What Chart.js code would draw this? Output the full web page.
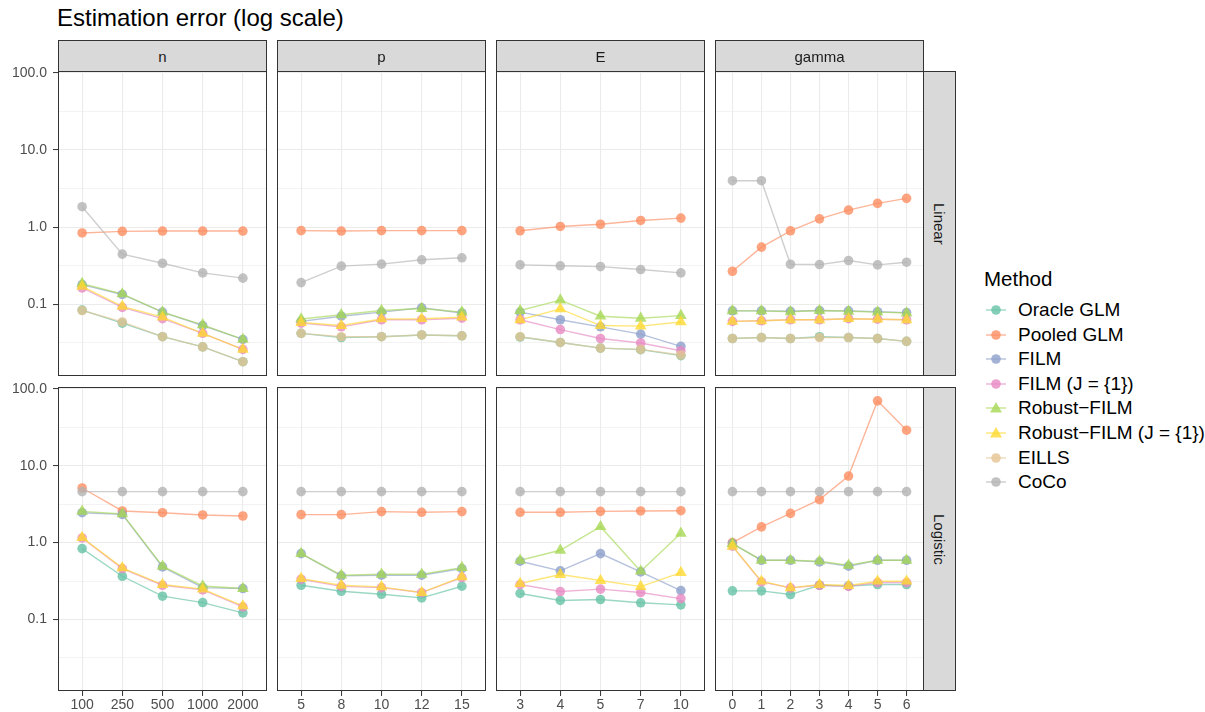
<!DOCTYPE html>
<html>
<head>
<meta charset="utf-8">
<script src="https://cdn.jsdelivr.net/npm/chart.js@4.4.1/dist/chart.umd.min.js"></script>
<style>
    body {
        margin: 0;
        width: 1205px;
        height: 712px;
        overflow: hidden;
        background: #fff;
        position: relative;
        font-family: "Liberation Sans", Arial, sans-serif;
    }
    .title {
        position: absolute;
        left: 57px;
        top: 4px;
        font-size: 24px;
        color: #000;
    }
    .box {
        position: absolute;
    }
    .strip {
        position: absolute;
        box-sizing: border-box;
        background: #D9D9D9;
        border: 1px solid #333;
        color: #1A1A1A;
        font-size: 15px;
        display: flex;
        align-items: center;
        justify-content: center;
        z-index: 2;
    }
    .strip.side span {
        writing-mode: vertical-rl;
    }
    .legend-title {
        position: absolute;
        left: 984px;
        top: 267px;
        font-size: 20.5px;
        color: #000;
    }
    .legend-item {
        position: absolute;
        left: 985px;
        height: 22px;
        display: flex;
        align-items: center;
        font-size: 19px;
        color: #000;
        white-space: nowrap;
    }
    .legend-item svg {
        margin-right: 11px;
    }
</style>
</head>
<body>
<div class="title">Estimation error (log scale)</div>
<div id="root"></div>
<script>
const METHODS = ['Oracle GLM', 'Pooled GLM', 'FILM', 'FILM (J = {1})', 'Robust−FILM', 'Robust−FILM (J = {1})', 'EILLS', 'CoCo'];
const COLORS = ['#66C2A5', '#FC8D62', '#8DA0CB', '#E78AC3', '#A6D854', '#FFD92F', '#E5C494', '#B3B3B3'];
const SHAPES = ['circle', 'circle', 'circle', 'circle', 'triangle', 'triangle', 'circle', 'circle'];

const FACETS = ['n', 'p', 'E', 'gamma'];
const ROWS = ['Linear', 'Logistic'];

const nLabels = ['100', '250', '500', '1000', '2000'];
const pLabels = ['5', '8', '10', '12', '15'];
const eLabels = ['3', '4', '5', '7', '10'];
const gammaLabels = ['0', '1', '2', '3', '4', '5', '6'];

const yTicks = [0.0316, 0.1, 0.316, 1, 3.16, 10, 31.6, 100];

// values in METHODS order, null = method not run
const linearN = [
    [0.084, 0.057, 0.038, 0.028, 0.018],
    [0.84, 0.88, 0.89, 0.89, 0.89],
    [0.18, 0.134, 0.079, 0.053, 0.035],
    [0.163, 0.091, 0.065, 0.042, 0.026],
    [0.185, 0.136, 0.079, 0.054, 0.035],
    [0.171, 0.094, 0.068, 0.042, 0.026],
    [0.083, 0.059, 0.038, 0.028, 0.018],
    [1.84, 0.446, 0.34, 0.255, 0.218]
];
const linearP = [
    [0.042, 0.037, 0.038, 0.040, 0.039],
    [0.90, 0.89, 0.90, 0.90, 0.90],
    [0.060, 0.070, 0.079, 0.090, 0.077],
    [0.057, 0.051, 0.063, 0.063, 0.066],
    [0.0645, 0.073, 0.083, 0.088, 0.079],
    [0.058, 0.053, 0.0645, 0.065, 0.068],
    [0.042, 0.038, 0.038, 0.040, 0.039],
    [0.191, 0.312, 0.331, 0.377, 0.40]
];
const linearE = [
    [0.0376, 0.032, 0.027, 0.0258, 0.0216],
    [0.896, 1.02, 1.09, 1.22, 1.31],
    [0.079, 0.063, 0.051, 0.041, 0.0285],
    [0.063, 0.047, 0.036, 0.0315, 0.025],
    [0.083, 0.113, 0.070, 0.0658, 0.0713],
    [0.063, 0.087, 0.053, 0.052, 0.059],
    [0.038, 0.032, 0.027, 0.026, 0.022],
    [0.324, 0.315, 0.308, 0.282, 0.255]
];
const linearGamma = [
    [0.036, 0.037, 0.036, 0.038, 0.037, 0.036, 0.033],
    [0.268, 0.55, 0.896, 1.28, 1.66, 2.03, 2.36],
    [0.082, 0.082, 0.081, 0.083, 0.082, 0.080, 0.078],
    [0.060, 0.061, 0.063, 0.063, 0.065, 0.064, 0.063],
    [0.082, 0.082, 0.080, 0.083, 0.081, 0.079, 0.077],
    [0.060, 0.061, 0.063, 0.063, 0.065, 0.064, 0.063],
    [0.036, 0.037, 0.036, 0.037, 0.037, 0.036, 0.033],
    [4.0, 4.0, 0.33, 0.327, 0.369, 0.324, 0.351]
];
const logisticN = [
    [0.836, 0.365, 0.201, 0.166, 0.122],
    [5.13, 2.58, 2.45, 2.29, 2.22],
    [2.45, 2.33, 0.483, 0.26, 0.253],
    [1.15, 0.46, 0.279, 0.243, 0.146],
    [2.55, 2.36, 0.493, 0.273, 0.253],
    [1.16, 0.469, 0.285, 0.248, 0.150],
    null,
    [4.6, 4.6, 4.6, 4.6, 4.6]
];
const logisticP = [
    [0.279, 0.233, 0.213, 0.191, 0.271],
    [2.31, 2.31, 2.53, 2.48, 2.53],
    [0.72, 0.369, 0.377, 0.377, 0.46],
    [0.334, 0.27, 0.26, 0.224, 0.351],
    [0.72, 0.377, 0.388, 0.388, 0.473],
    [0.34, 0.279, 0.266, 0.224, 0.358],
    null,
    [4.6, 4.6, 4.6, 4.6, 4.6]
];
const logisticE = [
    [0.218, 0.177, 0.182, 0.165, 0.155],
    [2.48, 2.48, 2.55, 2.58, 2.60],
    [0.573, 0.429, 0.72, 0.416, 0.238],
    [0.285, 0.231, 0.248, 0.224, 0.187],
    [0.59, 0.795, 1.61, 0.425, 1.32],
    [0.294, 0.384, 0.321, 0.268, 0.408],
    null,
    [4.6, 4.6, 4.6, 4.6, 4.6]
];
const logisticGamma = [
    [0.236, 0.236, 0.211, 0.279, 0.273, 0.285, 0.285],
    [1.0, 1.6, 2.4, 3.62, 7.34, 69.8, 29.0],
    [0.97, 0.59, 0.59, 0.561, 0.493, 0.59, 0.59],
    [0.90, 0.308, 0.258, 0.279, 0.27, 0.303, 0.303],
    [0.97, 0.59, 0.59, 0.573, 0.508, 0.59, 0.59],
    [0.896, 0.315, 0.258, 0.285, 0.277, 0.315, 0.315],
    null,
    [4.6, 4.6, 4.6, 4.6, 4.6, 4.6, 4.6]
];

const facetLabels = [nLabels, pLabels, eLabels, gammaLabels];
const facetData = [
    [linearN, linearP, linearE, linearGamma],
    [logisticN, logisticP, logisticE, logisticGamma]
];

// layout (px)
const colX = [58, 277, 496, 715];
const rowY = [71, 387];
const panelW = 209;
const panelH = [305, 304];
const yAxisW = 58;
const xAxisH = 21;
const pad = 8;
const Y_MIN = Math.pow(10, -1.93);
const Y_MAX = Math.pow(10, 2.024);

Chart.defaults.font.family = '"Liberation Sans", Arial, sans-serif';

function rgba(hex, a) {
    const n = parseInt(hex.slice(1), 16);
    return `rgba(${n >> 16}, ${(n >> 8) & 255}, ${n & 255}, ${a})`;
}

function isMajor(v) {
    const l = Math.log10(v);
    return Math.abs(l - Math.round(l)) < 1e-6;
}

const panelBorder = {
    id: 'panelBorder',
    afterDraw(chart) {
        const a = chart.chartArea;
        const ctx = chart.ctx;
        ctx.save();
        ctx.strokeStyle = '#333333';
        ctx.lineWidth = 1;
        ctx.strokeRect(Math.round(a.left) + 0.5, Math.round(a.top) + 0.5,
            Math.round(a.right - a.left) - 1, Math.round(a.bottom - a.top) - 1);
        ctx.restore();
    }
};

const root = document.getElementById('root');

function makePanel(col, row) {
    const labels = facetLabels[col];
    const series = facetData[row][col];
    const first = col === 0;
    const last = row === 1;

    const box = document.createElement('div');
    box.className = 'box';
    const left = first ? colX[col] - yAxisW : colX[col];
    const width = panelW + (first ? yAxisW : 0);
    const height = pad + panelH[row] + (last ? xAxisH : pad);
    box.style.left = left + 'px';
    box.style.top = (rowY[row] - pad) + 'px';
    box.style.width = width + 'px';
    box.style.height = height + 'px';
    const canvas = document.createElement('canvas');
    box.appendChild(canvas);
    root.appendChild(box);

    // ggplot draws all lines first, then points; later methods sit on top
    const lineSets = [];
    const pointSets = [];
    METHODS.forEach((m, i) => {
        if (!series[i]) return;
        const pts = series[i].map((v, k) => ({ x: k, y: v }));
        lineSets.push({
            label: m,
            data: pts,
            borderColor: rgba(COLORS[i], 0.65),
            borderWidth: 1.4,
            pointRadius: 0,
            fill: false,
            tension: 0,
            order: 100 + (METHODS.length - i)
        });
        pointSets.push({
            label: m,
            data: pts,
            showLine: false,
            pointStyle: SHAPES[i],
            pointRadius: SHAPES[i] === 'triangle' ? 6.8 : 4.8,
            pointBackgroundColor: rgba(COLORS[i], 0.8),
            pointBorderWidth: 0,
            pointBorderColor: 'rgba(0,0,0,0)',
            order: METHODS.length - i
        });
    });

    new Chart(canvas.getContext('2d'), {
        type: 'line',
        data: { datasets: lineSets.concat(pointSets) },
        options: {
            responsive: true,
            maintainAspectRatio: false,
            animation: false,
            events: [],
            layout: {
                autoPadding: false,
                padding: { top: pad, bottom: last ? 0 : pad, left: 0, right: 0 }
            },
            plugins: {
                legend: { display: false },
                tooltip: { enabled: false },
                title: { display: false }
            },
            scales: {
                x: {
                    type: 'linear',
                    min: -0.6,
                    max: labels.length - 0.4,
                    afterBuildTicks: function(scale) {
                        scale.ticks = labels.map((l, k) => ({ value: k }));
                    },
                    afterFit: function(scale) {
                        scale.height = last ? xAxisH : 0;
                        scale.paddingLeft = 0;
                        scale.paddingRight = 0;
                    },
                    ticks: {
                        display: last,
                        autoSkip: false,
                        maxRotation: 0,
                        padding: 1,
                        color: '#4D4D4D',
                        font: { size: 14 },
                        callback: function(value) {
                            return labels[value];
                        }
                    },
                    grid: {
                        color: '#EBEBEB',
                        lineWidth: 1.1,
                        drawTicks: last,
                        tickLength: 5,
                        tickColor: '#333333',
                        tickWidth: 1
                    },
                    border: { display: false }
                },
                y: {
                    type: 'logarithmic',
                    min: Y_MIN,
                    max: Y_MAX,
                    afterBuildTicks: function(scale) {
                        scale.ticks = yTicks.map(v => ({ value: v }));
                    },
                    afterFit: function(scale) {
                        scale.width = first ? yAxisW : 0;
                        scale.paddingTop = 0;
                        scale.paddingBottom = 0;
                    },
                    ticks: {
                        display: first,
                        padding: 6,
                        color: '#4D4D4D',
                        font: { size: 14 },
                        callback: function(value) {
                            return isMajor(value) ? value.toFixed(1) : '';
                        }
                    },
                    grid: {
                        color: '#EBEBEB',
                        lineWidth: function(ctx) {
                            return ctx.tick && isMajor(ctx.tick.value) ? 1.1 : 0.6;
                        },
                        drawTicks: first,
                        tickLength: 5,
                        tickWidth: 1,
                        tickColor: function(ctx) {
                            return ctx.tick && isMajor(ctx.tick.value) ? '#333333' : 'rgba(0,0,0,0)';
                        }
                    },
                    border: { display: false }
                }
            }
        },
        plugins: [panelBorder]
    });
}

function addStrip(text, x, y, w, h, side) {
    const s = document.createElement('div');
    s.className = 'strip' + (side ? ' side' : '');
    s.style.left = x + 'px';
    s.style.top = y + 'px';
    s.style.width = w + 'px';
    s.style.height = h + 'px';
    const span = document.createElement('span');
    span.textContent = text;
    s.appendChild(span);
    root.appendChild(s);
}

for (let r = 0; r < 2; r++) {
    for (let c = 0; c < 4; c++) {
        makePanel(c, r);
    }
}

FACETS.forEach((f, c) => addStrip(f, colX[c], rowY[0] - 31, panelW, 32, false));
ROWS.forEach((t, r) => addStrip(t, colX[3] + panelW - 1, rowY[r], 33, panelH[r], true));

// legend
const lt = document.createElement('div');
lt.className = 'legend-title';
lt.textContent = 'Method';
root.appendChild(lt);

METHODS.forEach((m, i) => {
    const item = document.createElement('div');
    item.className = 'legend-item';
    item.style.top = (299 + i * 24.6) + 'px';
    const col = COLORS[i];
    let mark;
    if (SHAPES[i] === 'triangle') {
        mark = `<polygon points="11,2 17,12.5 5,12.5" fill="${rgba(col, 0.8)}"/>`;
    } else {
        mark = `<circle cx="11" cy="8" r="4.8" fill="${rgba(col, 0.8)}"/>`;
    }
    item.innerHTML = `<svg width="22" height="16" viewBox="0 0 22 16">
        <line x1="1" y1="8" x2="21" y2="8" stroke="${rgba(col, 0.65)}" stroke-width="1.4"/>${mark}</svg><span>${m}</span>`;
    root.appendChild(item);
});
</script>
</body>
</html>
